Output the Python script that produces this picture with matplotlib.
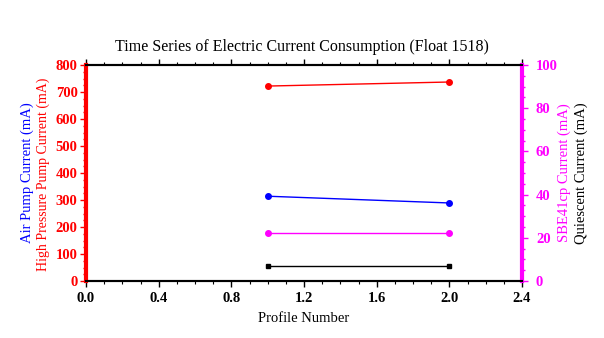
import numpy as np
import matplotlib
matplotlib.use('Agg')
import matplotlib.pyplot as plt
from matplotlib.ticker import MultipleLocator, FormatStrFormatter

plt.rcParams['font.family'] = ['Liberation Serif', 'DejaVu Serif']

# Current consumption per profile
profiles = [1, 2]
high_pressure_pump = [722, 737]
air_pump = [314, 289]
sbe41cp = [22.2, 22.2]
quiescent = [6.9, 6.9]

fig = plt.figure(figsize=(6.04, 3.38), dpi=100)
ax = fig.add_axes([86 / 604, 1 - 281 / 338, 436 / 604, 216 / 338])
ax2 = ax.twinx()

ax.plot(profiles, high_pressure_pump, color='red', marker='o', ms=4, lw=1)
ax.plot(profiles, air_pump, color='blue', marker='o', ms=4, lw=1)
ax2.plot(profiles, sbe41cp, color='magenta', marker='o', ms=4, lw=1)
ax2.plot(profiles, quiescent, color='black', marker='s', ms=3.5, lw=1)

ax.set_xlim(0, 2.4)
ax.set_ylim(0, 800)
ax2.set_ylim(0, 100)
ax.xaxis.set_major_locator(MultipleLocator(0.4))
ax.xaxis.set_minor_locator(MultipleLocator(0.1))
ax.yaxis.set_major_locator(MultipleLocator(100))
ax.yaxis.set_minor_locator(MultipleLocator(25))
ax2.yaxis.set_major_locator(MultipleLocator(20))
ax2.yaxis.set_minor_locator(MultipleLocator(5))
ax.xaxis.set_major_formatter(FormatStrFormatter('%.1f'))

ax.tick_params(axis='x', which='both', top=True, direction='out', labelsize=10.5, pad=4)
ax.tick_params(axis='x', which='major', length=4, width=1)
ax.tick_params(axis='x', which='minor', length=2.5, width=0.8)
ax.tick_params(axis='y', which='both', colors='red', labelsize=10.5, width=1, pad=2)
ax.tick_params(axis='y', which='major', length=4)
ax.tick_params(axis='y', which='minor', length=2.5)
ax2.tick_params(axis='y', which='both', colors='magenta', labelsize=10.5, width=1, pad=6)
ax2.tick_params(axis='y', which='major', length=4)
ax2.tick_params(axis='y', which='minor', length=2.5)
for lab in ax.get_xticklabels() + ax.get_yticklabels() + ax2.get_yticklabels():
    lab.set_fontweight('bold')

for a in (ax, ax2):
    a.spines['top'].set_linewidth(1.5)
    a.spines['bottom'].set_linewidth(1.5)
ax2.spines['left'].set_color('red')
ax2.spines['left'].set_linewidth(3)
ax2.spines['right'].set_color('magenta')
ax2.spines['right'].set_linewidth(3)

ax.set_xlabel('Profile Number', fontsize=10.5, labelpad=5)
fig.text(27 / 604, 1 - 173 / 338, 'Air Pump Current (mA)', color='blue',
         rotation=90, ha='center', va='center', fontsize=10.5)
fig.text(43 / 604, 1 - 174 / 338, 'High Pressure Pump Current (mA)', color='red',
         rotation=90, ha='center', va='center', fontsize=10)
fig.text(564 / 604, 1 - 173 / 338, 'SBE41cp Current (mA)', color='magenta',
         rotation=90, ha='center', va='center', fontsize=10.5)
fig.text(581 / 604, 1 - 173 / 338, 'Quiescent Current (mA)', color='black',
         rotation=90, ha='center', va='center', fontsize=10.5)
fig.text(302 / 604, 1 - 47 / 338, 'Time Series of Electric Current Consumption (Float 1518)',
         ha='center', va='center', fontsize=11.5)

fig.savefig('out.png', dpi=100)
